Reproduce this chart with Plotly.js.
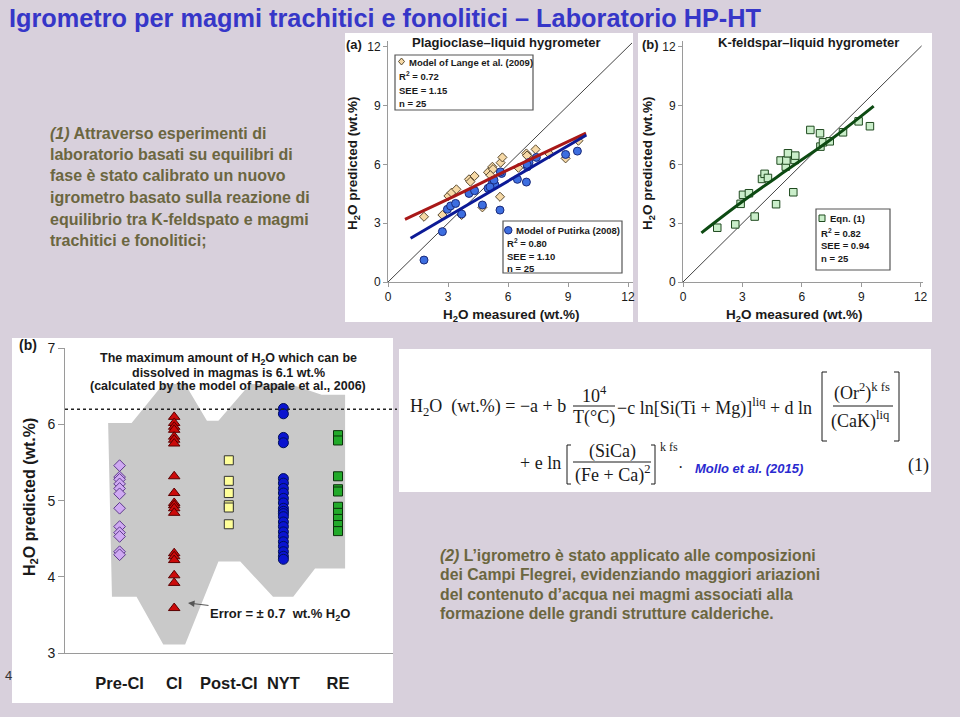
<!DOCTYPE html>
<html><head><meta charset="utf-8">
<script src="https://cdn.plot.ly/plotly-3.0.1.min.js"></script>
<style>html,body{margin:0;padding:0;background:#d8d0dc;}#chart{width:960px;height:717px;}</style>
</head><body><div id="chart"></div>
<script>
// ---------- DATA ----------
// Panel (a): plagioclase-liquid hygrometer
const langeMeasured  = [1.80,2.72,3.02,3.18,3.42,3.68,4.05,4.12,4.33,4.72,5.00,5.22,5.25,5.12,5.60,5.63,5.72,6.52,6.92,7.00,7.38,8.08,8.88,9.52,6.95];
const langePredicted = [3.33,3.42,4.39,4.56,4.73,3.42,5.24,5.12,5.41,3.81,5.60,5.88,5.76,5.45,4.35,6.09,6.36,5.83,6.56,6.43,6.77,6.53,6.31,7.21,6.45];
const putirkaMeasured  = [1.80,2.72,2.97,3.13,3.38,3.68,4.05,4.33,4.72,5.00,5.22,5.35,5.30,5.60,5.68,5.62,6.47,6.92,6.97,7.05,7.42,8.88,9.47,5.10,6.95];
const putirkaPredicted = [1.12,2.57,3.71,3.88,4.01,3.47,4.52,4.66,3.93,4.78,5.07,4.95,5.20,3.67,5.54,5.62,5.24,5.10,5.88,6.10,6.36,6.51,6.68,4.85,6.00];
const langeFitX = [0.85,3.4,6.0,9.9];
const langeFitY = [3.20,4.42,5.72,7.60];
const putirkaFitX = [1.13,9.92];
const putirkaFitY = [2.23,7.50];
const oneToOneA = [0,12.2];
// Panel (b): K-feldspar-liquid hygrometer
const kfsMeasured  = [1.73,2.64,2.91,3.03,3.33,3.62,3.99,4.12,4.29,4.70,4.93,5.19,5.22,5.30,5.57,5.64,5.67,6.43,6.92,6.94,7.07,7.41,8.08,8.87,9.44];
const kfsPredicted = [2.77,2.94,3.99,4.45,4.53,3.34,5.26,5.52,5.31,3.97,6.20,5.89,6.20,6.57,4.58,6.23,6.45,7.76,7.59,6.91,7.13,7.18,7.64,8.20,7.95];
const kfsFitX = [0.93,2.95,5.3,7.5,9.63];
const kfsFitY = [2.51,4.07,5.75,7.30,8.98];
const oneToOneB = [0,12.05];
// Bottom panel: Campi Flegrei application
const categories = ['Pre-CI','CI','Post-CI','NYT','RE'];
const categoryPos = [1,2,3,4,5];
const preCI  = [5.46,5.31,5.28,5.22,5.16,5.09,4.90,4.66,4.58,4.53,4.33,4.29];
const CI     = [6.10,6.02,5.97,5.93,5.84,5.80,5.75,5.32,5.10,4.97,4.94,4.90,4.84,4.31,4.27,4.22,4.02,3.92,3.59];
const postCI = [5.53,5.26,5.10,4.94,4.91,4.69];
const NYT    = [6.21,6.14,5.83,5.76,5.29,5.23,5.16,5.10,5.03,4.97,4.90,4.86,4.83,4.79,4.72,4.66,4.59,4.53,4.46,4.40,4.33,4.27,4.23];
const RE     = [5.86,5.79,5.32,5.15,5.12,4.92,4.84,4.76,4.68,4.60];
const envX = [0.79,1.22,1.80,2.20,2.60,2.81,3.39,4.12,4.70,5.13,5.13,4.58,4.18,3.81,3.21,2.81,2.20,1.80,1.31,0.86];
const envY = [6.02,6.02,6.53,6.53,6.05,6.05,6.53,6.53,6.39,6.39,4.11,4.11,3.74,3.74,4.20,4.20,3.11,3.11,3.74,3.74];
const maxH2O = 6.2;

// ---------- HELPERS ----------
const W=960,H=717;
const px = x => x/W;
const py = y => 1 - y/H;
const SANS='Liberation Sans, Arial, sans-serif';
const SERIF='Liberation Serif, Times New Roman, serif';
const ann = (text,x,y,o={}) => ({
  text, x:px(x), y:py(y), xref:'paper', yref:'paper', showarrow:false,
  xanchor:o.xa||'center', yanchor:o.ya||'middle', textangle:o.angle||0,
  font:{family:o.family||SANS, size:o.size||12, color:o.color||'#1a1a1a', weight:o.weight||'normal', style:o.style||'normal'}
});
const rect = (x0,y0,x1,y1,fill,line,lw) => ({type:'rect',xref:'paper',yref:'paper',x0:px(x0),x1:px(x1),y0:py(y0),y1:py(y1),
  fillcolor:fill,line:{color:line||fill,width:lw||0},layer:'below'});
const seg = (x0,y0,x1,y1,color,w,dash) => ({type:'line',xref:'paper',yref:'paper',x0:px(x0),x1:px(x1),y0:py(y0),y1:py(y1),
  line:{color:color,width:w,dash:dash||'solid'},layer:'above'});
const pathP = (pts,color,w,fill) => ({type:'path',xref:'paper',yref:'paper',
  path: pts.map((p,i)=>(i?'L':'M')+' '+px(p[0])+' '+py(p[1])).join(' ')+(fill?' Z':''),
  line:{color:color,width:w}, fillcolor: fill||'rgba(0,0,0,0)', layer:'above'});
const P1 = {xa:'left',size:16,weight:'bold',color:'#6b6640'};
const P2 = {xa:'left',size:15.8,weight:'bold',color:'#6b6640'};
const LEG = {xa:'left',size:9.5,weight:'bold'};
const EQ = {family:SERIF,size:18};

// ---------- TRACES ----------
const traces = [
  {x:oneToOneA,y:oneToOneA,xaxis:'x',yaxis:'y',mode:'lines',line:{color:'#111',width:0.8},hoverinfo:'skip'},
  {x:langeMeasured,y:langePredicted,xaxis:'x',yaxis:'y',mode:'markers',
   marker:{symbol:'diamond',size:7,color:'#f6d9a6',line:{color:'#5a4a30',width:1}}},
  {x:putirkaMeasured,y:putirkaPredicted,xaxis:'x',yaxis:'y',mode:'markers',
   marker:{symbol:'circle',size:8,color:'#3d6ee0',line:{color:'#1a2a7a',width:1}}},
  {x:langeFitX,y:langeFitY,xaxis:'x',yaxis:'y',mode:'lines',line:{color:'#a81818',width:3,shape:'spline'}},
  {x:putirkaFitX,y:putirkaFitY,xaxis:'x',yaxis:'y',mode:'lines',line:{color:'#0c1a96',width:3}},

  {x:oneToOneB,y:oneToOneB,xaxis:'x2',yaxis:'y2',mode:'lines',line:{color:'#111',width:0.8},hoverinfo:'skip'},
  {x:kfsMeasured,y:kfsPredicted,xaxis:'x2',yaxis:'y2',mode:'markers',
   marker:{symbol:'square',size:7.5,color:'#caeeca',line:{color:'#1f4a1f',width:1}}},
  {x:kfsFitX,y:kfsFitY,xaxis:'x2',yaxis:'y2',mode:'lines',line:{color:'#0d4a12',width:3,shape:'spline'}},

  {x:envX,y:envY,xaxis:'x3',yaxis:'y3',mode:'lines',fill:'toself',fillcolor:'#c9c9c9',line:{width:0},hoverinfo:'skip'},
  {x:preCI.map(()=>categoryPos[0]),y:preCI,xaxis:'x3',yaxis:'y3',mode:'markers',
   marker:{symbol:'diamond',size:9,color:'#cfa9f2',line:{color:'#5e3b8c',width:1}}},
  {x:CI.map(()=>categoryPos[1]),y:CI,xaxis:'x3',yaxis:'y3',mode:'markers',
   marker:{symbol:'triangle-up',size:10,color:'#cc0a0a',line:{color:'#5a0000',width:1}}},
  {x:postCI.map(()=>categoryPos[2]),y:postCI,xaxis:'x3',yaxis:'y3',mode:'markers',
   marker:{symbol:'square',size:9,color:'#ffff99',line:{color:'#333',width:1}}},
  {x:NYT.map(()=>categoryPos[3]),y:NYT,xaxis:'x3',yaxis:'y3',mode:'markers',
   marker:{symbol:'circle',size:10,color:'#0a14d0',line:{color:'#00105a',width:1}}},
  {x:RE.map(()=>categoryPos[4]),y:RE,xaxis:'x3',yaxis:'y3',mode:'markers',
   marker:{symbol:'square',size:9,color:'#22aa2a',line:{color:'#0a300a',width:1}}}
];

// ---------- AXES ----------
const axCommon = {showgrid:false,zeroline:false,showline:true,linecolor:'#9a9a9a',linewidth:1,
  ticks:'outside',ticklen:4,tickcolor:'#9a9a9a',tickfont:{family:SANS,size:12,color:'#1a1a1a'},fixedrange:true};
const layout = {
  width:W,height:H,margin:{l:0,r:0,t:0,b:0},showlegend:false,
  paper_bgcolor:'#d8d0dc',plot_bgcolor:'rgba(0,0,0,0)',
  xaxis: Object.assign({},axCommon,{domain:[px(388),px(633)],range:[0,12.25],tickvals:[0,3,6,9,12],anchor:'y'}),
  yaxis: Object.assign({},axCommon,{domain:[py(282),py(41)],range:[0,12.3],tickvals:[0,3,6,9,12],anchor:'x'}),
  xaxis2: Object.assign({},axCommon,{domain:[px(683),px(923)],range:[0,12.12],tickvals:[0,3,6,9,12],anchor:'y2'}),
  yaxis2: Object.assign({},axCommon,{domain:[py(282),py(41)],range:[0,12.3],tickvals:[0,3,6,9,12],anchor:'x2'}),
  xaxis3: Object.assign({},axCommon,{domain:[px(65),px(392.6)],range:[0,6],tickvals:categoryPos,ticktext:categories,
     ticks:'',ticklabelstandoff:15,tickfont:{family:SANS,size:16.5,color:'#1a1a1a',weight:'bold'},anchor:'y3'}),
  yaxis3: Object.assign({},axCommon,{domain:[py(653),py(348.3)],range:[3,7],tickvals:[3,4,5,6,7],ticklen:6,
     tickfont:{family:SANS,size:14,color:'#1a1a1a'},anchor:'x3'}),
  shapes:[
    rect(345,33,633,322,'#ffffff'),
    rect(638,33,932,322,'#ffffff'),
    rect(12,338,393,703,'#ffffff'),
    rect(399,349,931,492,'#ffffff'),
    // legend boxes
    rect(395,55,533,110,'#ffffff','#555',1.2),
    rect(503,221,622,273,'#ffffff','#555',1.2),
    rect(816,209,890,270,'#ffffff','#555',1.2),
    pathP([[401.5,58],[404.5,61.5],[401.5,65],[398.5,61.5]],'#5a4a30',1,'#f6d9a6'),
    {type:'circle',xref:'paper',yref:'paper',x0:px(504.5),x1:px(512),y0:py(226.5),y1:py(234),fillcolor:'#3d6ee0',line:{color:'#1a2a7a',width:1},layer:'above'},
    {type:'rect',xref:'paper',yref:'paper',x0:px(819),x1:px(825),y0:py(215),y1:py(221.5),fillcolor:'#caeeca',line:{color:'#1f4a1f',width:1},layer:'above'},
    // max H2O dotted line
    {type:'line',xref:'paper',yref:'y3',x0:px(65),x1:px(397),y0:maxH2O,y1:maxH2O,line:{color:'#222',width:1.5,dash:'dot'},layer:'above'},
    // equation: fraction bars and brackets
    seg(573,406,615,406,'#1a1a1a',1),
    seg(833,406,893,406,'#1a1a1a',1),
    seg(573,462,651,462,'#1a1a1a',1),
    pathP([[827,372],[822,372],[822,441],[827,441]],'#1a1a1a',1),
    pathP([[894,372],[899,372],[899,441],[894,441]],'#1a1a1a',1),
    pathP([[571,445],[567,445],[567,484],[571,484]],'#1a1a1a',1),
    pathP([[651,445],[655,445],[655,484],[651,484]],'#1a1a1a',1)
  ],
  annotations:[
    ann('Igrometro per magmi trachitici e fonolitici – Laboratorio HP-HT',7,18,{xa:'left',family:'Liberation Sans Narrow, Arial Narrow, sans-serif',size:25.3,weight:'bold',color:'#3636c8'}),
    // paragraph (1)
    ann('<i>(1)</i> Attraverso esperimenti di',48,133,P1),
    ann('laboratorio basati su equilibri di',48,154.5,P1),
    ann('fase è stato calibrato un nuovo',48,176,P1),
    ann('igrometro basato sulla reazione di',48,197.5,P1),
    ann('equilibrio tra K-feldspato e magmi',48,219,P1),
    ann('trachitici e fonolitici;',48,240.5,P1),
    // paragraph (2)
    ann('<i>(2)</i> L’igrometro è stato applicato alle composizioni',438,555,P2),
    ann('dei Campi Flegrei, evidenziando maggiori ariazioni',438,574.5,P2),
    ann('del contenuto d’acqua nei magmi associati alla',438,594,P2),
    ann('formazione delle grandi strutture calderiche.',438,613.5,P2),
    // panel (a)
    ann('(a)',354,44,{size:13,weight:'bold'}),
    ann('Plagioclase–liquid hygrometer',507,43,{size:13,weight:'bold'}),
    ann('H<sub>2</sub>O predicted (wt.%)',353,163,{size:13.5,weight:'bold',angle:-90}),
    ann('H<sub>2</sub>O measured (wt.%)',511,315,{size:13.5,weight:'bold'}),
    ann('Model of Lange et al. (2009)',407,62,LEG),
    ann('R<sup>2</sup> = 0.72',397,76.5,LEG),
    ann('SEE = 1.15',397,90.5,LEG),
    ann('n = 25',397,103.5,LEG),
    ann('Model of Putirka (2008)',514,230,LEG),
    ann('R<sup>2</sup> = 0.80',505,243,LEG),
    ann('SEE = 1.10',505,256,LEG),
    ann('n = 25',505,269,LEG),
    // panel (b)
    ann('(b)',650,44,{size:13,weight:'bold'}),
    ann('K-feldspar–liquid hygrometer',808,42,{size:13,weight:'bold'}),
    ann('H<sub>2</sub>O predicted (wt.%)',648,163,{size:13.5,weight:'bold',angle:-90}),
    ann('H<sub>2</sub>O measured (wt.%)',794,315,{size:13.5,weight:'bold'}),
    ann('Eqn. (1)',828,218.5,LEG),
    ann('R<sup>2</sup> = 0.82',819,232.5,LEG),
    ann('SEE = 0.94',819,245,LEG),
    ann('n = 25',819,258.5,LEG),
    // bottom panel
    ann('(b)',28,345,{size:14,weight:'bold'}),
    ann('4',3,675,{xa:'left',size:13,color:'#333'}),
    ann('H<sub>2</sub>O predicted (wt.%)',30,497,{size:16,weight:'bold',angle:-90}),
    ann('The maximum amount of H<sub>2</sub>O which can be',228,358.5,{size:12.5,weight:'bold'}),
    ann('dissolved in magmas is 6.1 wt.%',228,372.5,{size:12.5,weight:'bold'}),
    ann('(calculated by the model of Papale et al., 2006)',228,386,{size:12.5,weight:'bold'}),
    {text:'Error = ± 0.7  wt.% H<sub>2</sub>O',x:px(188),y:py(603),xref:'paper',yref:'paper',showarrow:true,
     ax:92,ay:11,axref:'pixel',ayref:'pixel',arrowhead:2,arrowsize:1.3,arrowwidth:1,arrowcolor:'#555',
     xanchor:'center',yanchor:'middle',font:{family:SANS,size:13,color:'#1a1a1a',weight:'bold'}},
    // equation
    ann('H<sub>2</sub>O  (wt.%) = −a + b',408,407,Object.assign({xa:'left'},EQ)),
    ann('10<sup>4</sup>',594,394,EQ),
    ann('T(°C)',594,417,EQ),
    ann('−c ln[Si(Ti + Mg)]<sup>liq</sup> + d ln',615,407,Object.assign({xa:'left'},EQ)),
    ann('(Or<sup>2</sup>)<sup>k fs</sup>',862,392,EQ),
    ann('(CaK)<sup>liq</sup>',860,420,EQ),
    ann('+ e ln',518,463,Object.assign({xa:'left'},EQ)),
    ann('(SiCa)',612,451,EQ),
    ann('(Fe + Ca)<sup>2</sup>',612,474,EQ),
    ann('k fs',658,447,{xa:'left',family:SERIF,size:12}),
    ann('·',680,467,{family:SERIF,size:16}),
    ann('Mollo et al. (2015)',693,468,{xa:'left',size:13,weight:'bold',style:'italic',color:'#2a2ad0'}),
    ann('(1)',918,465,EQ)
  ]
};
Plotly.newPlot('chart',traces,layout,{staticPlot:true,displayModeBar:false});
</script></body></html>
